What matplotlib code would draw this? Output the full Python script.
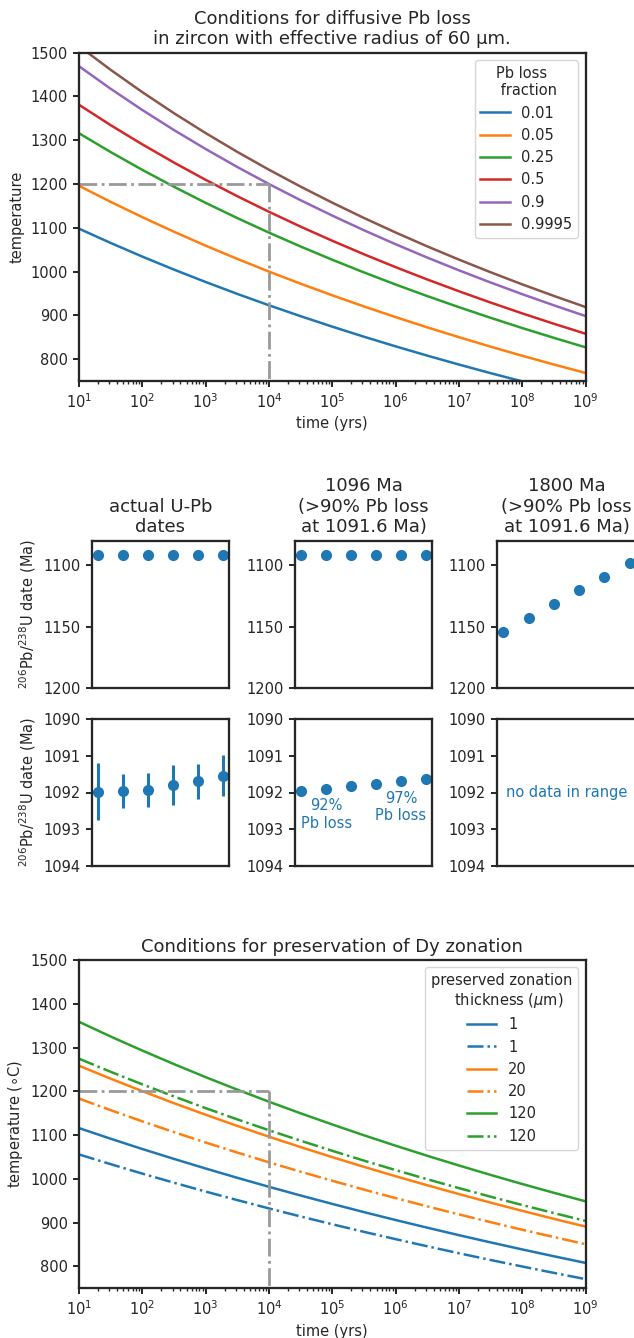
import matplotlib

matplotlib.use("Agg")
import matplotlib.pyplot as plt

# ---- data (values at every half decade) -------------------------------------
times = [1e1, 3.162e1, 1e2, 3.162e2, 1e3, 3.162e3, 1e4, 3.162e4, 1e5,
         3.162e5, 1e6, 3.162e6, 1e7, 3.162e7, 1e8, 3.162e8, 1e9]

pb_loss_fractions = ["0.01", "0.05", "0.25", "0.5", "0.9", "0.9995"]
pb_loss_temps = [
    [1098.0, 1065.4, 1034.2, 1004.5, 976.2, 949.0, 923.0, 898.1, 874.2,
     851.2, 829.2, 808.0, 787.6, 768.0, 749.1, 730.8, 713.2],
    [1196.0, 1159.3, 1124.3, 1091.0, 1059.2, 1029.0, 1000.0, 972.3, 945.8,
     920.4, 896.0, 872.6, 850.2, 828.5, 807.7, 787.7, 768.4],
    [1316.0, 1273.0, 1232.3, 1193.8, 1157.0, 1122.2, 1089.0, 1057.3, 1027.0,
     998.1, 970.5, 944.0, 918.7, 894.4, 871.0, 848.6, 827.0],
    [1381.0, 1334.5, 1290.6, 1249.0, 1209.6, 1172.2, 1136.6, 1102.7, 1070.4,
     1039.6, 1010.1, 982.0, 955.1, 929.3, 904.5, 880.8, 858.0],
    [1469.1, 1417.6, 1369.1, 1323.3, 1280.0, 1238.9, 1200.0, 1163.0, 1127.9,
     1094.4, 1062.5, 1032.0, 1002.9, 975.1, 948.4, 922.9, 898.4],
    [1515.0, 1460.9, 1409.9, 1361.8, 1316.4, 1273.4, 1232.7, 1194.1, 1157.4,
     1122.5, 1089.3, 1057.6, 1027.4, 998.5, 970.8, 944.4, 919.0],
]

dy_labels = ["1", "1", "20", "20", "120", "120"]
dy_styles = ["-", "-.", "-", "-.", "-", "-."]
dy_colors = ["tab:blue", "tab:blue", "tab:orange", "tab:orange", "tab:green", "tab:green"]
dy_temps = [
    [1116.0, 1091.7, 1068.2, 1045.6, 1023.7, 1002.4, 981.9, 962.0, 942.8,
     924.1, 906.0, 888.5, 871.4, 854.9, 838.8, 823.2, 808.0],
    [1055.8, 1033.6, 1012.0, 991.2, 971.0, 951.5, 932.5, 914.1, 896.3,
     879.0, 862.3, 846.0, 830.1, 814.7, 799.8, 785.2, 771.0],
    [1258.5, 1228.9, 1200.4, 1172.9, 1146.5, 1121.0, 1096.4, 1072.6, 1049.7,
     1027.5, 1006.1, 985.4, 965.3, 945.8, 927.0, 908.7, 891.0],
    [1183.4, 1157.0, 1131.4, 1106.8, 1083.1, 1060.1, 1037.9, 1016.4, 995.7,
     975.5, 956.1, 937.2, 918.9, 901.1, 883.8, 867.1, 850.8],
    [1358.8, 1325.2, 1293.1, 1262.2, 1232.4, 1203.8, 1176.3, 1149.8, 1124.3,
     1099.6, 1075.8, 1052.8, 1030.6, 1009.1, 988.3, 968.2, 948.7],
    [1274.5, 1244.6, 1215.9, 1188.3, 1161.6, 1135.9, 1111.1, 1087.2, 1064.1,
     1041.7, 1020.1, 999.2, 978.9, 959.3, 940.3, 921.9, 904.0],
]

grain_idx = [0, 1, 2, 3, 4, 5]
actual_dates = [1091.98, 1091.96, 1091.93, 1091.80, 1091.70, 1091.54]
actual_errs = [0.77, 0.46, 0.46, 0.55, 0.48, 0.56]
dates_1096 = [1091.96, 1091.90, 1091.82, 1091.76, 1091.69, 1091.63]
dates_1800 = [1154.5, 1143.1, 1131.8, 1120.4, 1109.3, 1098.4]

panel_titles = [
    "actual U-Pb\ndates",
    "1096 Ma\n(>90% Pb loss\nat 1091.6 Ma)",
    "1800 Ma\n(>90% Pb loss\nat 1091.6 Ma)",
]

ref_time, ref_temp = 1e4, 1200

# ---- style ------------------------------------------------------------------
dark = "0.15"
plt.rcParams.update({
    "font.family": ["DejaVu Sans"],
    "font.size": 10.5,
    "axes.titlesize": 13,
    "axes.labelsize": 10.5,
    "xtick.labelsize": 10.5,
    "ytick.labelsize": 10.5,
    "legend.fontsize": 10.5,
    "legend.title_fontsize": 10.5,
    "text.color": dark,
    "axes.labelcolor": dark,
    "axes.edgecolor": dark,
    "xtick.color": dark,
    "ytick.color": dark,
    "axes.linewidth": 1.65,
    "xtick.major.width": 1.4,
    "ytick.major.width": 1.4,
    "xtick.minor.width": 1.0,
    "ytick.minor.width": 1.0,
    "xtick.major.size": 4.5,
    "ytick.major.size": 4.5,
    "xtick.minor.size": 2.5,
    "ytick.minor.size": 2.5,
    "lines.linewidth": 1.8,
})

W, H = 634, 1338
fig = plt.figure(figsize=(W / 100, H / 100), dpi=100)


def px_rect(left, top, right, bottom):
    return [left / W, 1 - bottom / H, (right - left) / W, (bottom - top) / H]


def draw_reference_box(ax):
    ax.plot([10, ref_time], [ref_temp, ref_temp], "-.", color="0.6", lw=2)
    ax.plot([ref_time, ref_time], [ref_temp, 750], "-.", color="0.6", lw=2)


# ---- top: Pb loss -----------------------------------------------------------
ax = fig.add_axes(px_rect(79, 52.7, 585.5, 381))
for frac, temps in zip(pb_loss_fractions, pb_loss_temps):
    ax.plot(times, temps, label=frac)
draw_reference_box(ax)
ax.set_xscale("log")
ax.set_xlim(10, 1e9)
ax.set_ylim(750, 1500)
ax.set_xlabel("time (yrs)")
ax.set_ylabel("temperature")
ax.set_title("Conditions for diffusive Pb loss\nin zircon with effective radius of 60 μm.")
ax.legend(title="Pb loss\n fraction", loc="upper right")

# ---- middle: U-Pb date panels -----------------------------------------------
lefts = [92, 295, 497]
ylabel = "$^{206}$Pb/$^{238}$U date (Ma)"
for col, left in enumerate(lefts):
    right = left + (137 if col < 2 else 139)
    up = fig.add_axes(px_rect(left, 540.7, right, 688))
    lo = fig.add_axes(px_rect(left, 719, right, 866))
    if col == 0:
        for a in (up, lo):
            a.errorbar(grain_idx, actual_dates, yerr=actual_errs, fmt="o", ms=7,
                       elinewidth=2.2, capsize=0, color="tab:blue")
            a.set_ylabel(ylabel)
    elif col == 1:
        for a in (up, lo):
            a.plot(grain_idx, dates_1096, "o", ms=7, color="tab:blue")
        lo.text(1, 1092.6, "92%\nPb loss", ha="center", va="center", color="tab:blue")
        lo.text(4, 1092.4, "97%\nPb loss", ha="center", va="center", color="tab:blue")
    else:
        up.plot(grain_idx, dates_1800, "o", ms=7, color="tab:blue")
        lo.set_xlim(-0.25, 5.25)
        lo.text(2.5, 1092, "no data in range", ha="center", va="center", color="tab:blue")
    up.set_ylim(1200, 1080)
    up.set_yticks([1100, 1150, 1200])
    lo.set_ylim(1094, 1090)
    lo.set_yticks([1090, 1091, 1092, 1093, 1094])
    for a in (up, lo):
        a.set_xticks([])
    up.set_title(panel_titles[col])

# ---- bottom: Dy zonation ----------------------------------------------------
ax = fig.add_axes(px_rect(79, 960, 585.5, 1288.3))
for lab, ls, c, temps in zip(dy_labels, dy_styles, dy_colors, dy_temps):
    ax.plot(times, temps, ls, color=c, label=lab)
draw_reference_box(ax)
ax.set_xscale("log")
ax.set_xlim(10, 1e9)
ax.set_ylim(750, 1500)
ax.set_xlabel("time (yrs)")
ax.set_ylabel(r"temperature ($\circ$C)")
ax.set_title("Conditions for preservation of Dy zonation")
ax.legend(title="preserved zonation\n     thickness ($\\mu$m)", loc="upper right")

fig.savefig("out.png", dpi=100)
